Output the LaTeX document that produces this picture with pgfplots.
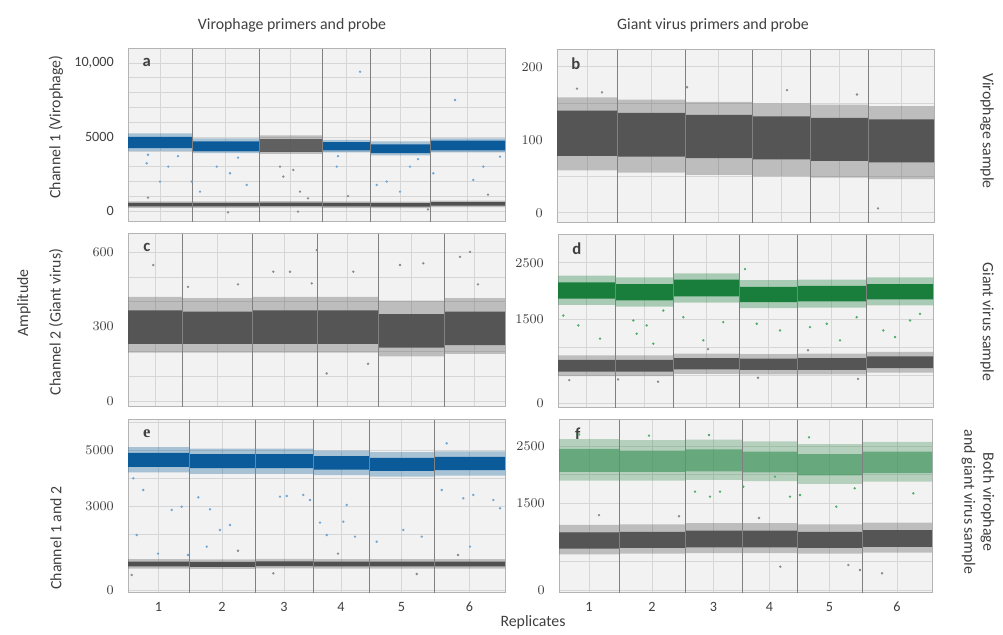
\documentclass[border=0pt]{standalone}
\usepackage{pgfplots}
\pgfplotsset{compat=1.18}
\usepackage{pgfplotstable}
\usepgfplotslibrary{fillbetween}
\usepackage{fontspec}
\setmainfont{Carlito}
\newfontfamily\serifletter{Liberation Serif}

\definecolor{bgc}{HTML}{F2F2F2}
\definecolor{gridc}{HTML}{D6D6D6}
\definecolor{framec}{HTML}{B4B4B4}
\definecolor{divc}{HTML}{808080}
\definecolor{vblue}{HTML}{0B5A9A}
\definecolor{vgreen}{HTML}{127A35}
\definecolor{vgray}{HTML}{505050}
\definecolor{ptblue}{HTML}{6FA8D6}
\definecolor{ptgreen}{HTML}{4FAE6C}
\definecolor{ptgray}{HTML}{8C8C8C}
\definecolor{txt}{HTML}{404040}

% band tables: segment start, halo low, core low, core high, halo high
\pgfplotstableread{
x hlo lo hi hhi
0 4050 4250 5000 5250
64 3900 4050 4700 4900
131 3900 4050 4700 4900
}\aBlueA
\pgfplotstableread{
x hlo lo hi hhi
131 3850 4000 4850 5100
194 3850 4000 4850 5100
}\aGrayPos
\pgfplotstableread{
x hlo lo hi hhi
194 3950 4100 4650 4800
242 3750 3900 4500 4700
302 3950 4100 4750 4900
377 3950 4100 4750 4900
}\aBlueB
\pgfplotstableread{
x hlo lo hi hhi
0 200 300 550 650
64 200 300 540 640
131 220 320 560 660
194 210 310 550 650
242 190 290 530 630
302 250 350 600 700
377 250 350 600 700
}\aGrayNeg
\pgfplotstableread{
x hlo lo hi hhi
0 58 78 140 158
60 55 77 137 155
128 52 75 134 152
195 50 73 132 150
253 48 71 130 148
311 46 69 128 146
377 46 69 128 146
}\bGray
\pgfplotstableread{
x hlo lo hi hhi
0 195 230 365 420
54 195 230 360 415
124 195 230 365 420
189 195 230 365 420
250 180 215 350 405
316 190 225 360 415
377 190 225 360 415
}\cGray
\pgfplotstableread{
x hlo lo hi hhi
0 1750 1860 2150 2270
57 1720 1830 2120 2240
115 1790 1900 2200 2310
181 1690 1800 2070 2190
239 1700 1810 2090 2200
308 1740 1850 2120 2240
375 1740 1850 2120 2240
}\dGreen
\pgfplotstableread{
x hlo lo hi hhi
0 480 560 770 850
57 480 560 770 850
115 520 600 800 880
181 510 590 790 870
239 510 590 800 880
308 540 620 830 910
375 540 620 830 910
}\dGray
\pgfplotstableread{
x hlo lo hi hhi
0 4200 4400 4900 5100
61 4150 4350 4850 5050
127 4150 4350 4850 5050
185 4100 4300 4780 4980
241 4050 4250 4720 4920
306 4080 4280 4750 4950
377 4080 4280 4750 4950
}\eBlue
\pgfplotstableread{
x hlo lo hi hhi
0 760 840 1010 1100
61 750 830 1000 1090
127 770 850 1020 1110
185 760 840 1010 1100
241 760 840 1010 1100
306 760 840 1010 1100
377 760 840 1010 1100
}\eGray
\pgfplotstableread{
x hlo lo hi hhi
0 1900 2050 2450 2620
60 1900 2050 2420 2600
126 1910 2060 2440 2610
183 1890 2040 2400 2580
238 1840 1990 2360 2530
303 1880 2030 2400 2570
373 1880 2030 2400 2570
}\fGreen
\pgfplotstableread{
x hlo lo hi hhi
0 620 720 1000 1130
60 630 730 1010 1140
126 640 740 1030 1160
183 640 740 1030 1160
238 630 730 1010 1140
303 650 750 1040 1170
373 650 750 1040 1170
}\fGray

% #1 table, #2 colour, #3 unique id, #4 core opacity
\newcommand{\band}[4]{%
  \addplot[name path=#3hh, const plot, draw=none, forget plot] table[x=x,y=hhi]{#1};
  \addplot[name path=#3hl, const plot, draw=none, forget plot] table[x=x,y=hlo]{#1};
  \addplot[fill=#2, fill opacity=0.32, draw=none, forget plot] fill between[of=#3hh and #3hl];
  \addplot[name path=#3ch, const plot, draw=none, forget plot] table[x=x,y=hi]{#1};
  \addplot[name path=#3cl, const plot, draw=none, forget plot] table[x=x,y=lo]{#1};
  \addplot[fill=#2, fill opacity=#4, draw=none, forget plot] fill between[of=#3ch and #3cl];
}

\pgfplotsset{
  panel/.style={
    scale only axis, height=103.8pt, anchor=south west,
    axis background/.style={fill=bgc},
    axis line style={framec, line width=0.6pt},
    tick style={draw=none},
    xmajorgrids, ymajorgrids, yminorgrids,
    major grid style={gridc, line width=0.4pt},
    minor grid style={gridc, line width=0.4pt},
    xticklabels={},
    scaled y ticks=false,
    ticklabel style={font=\fontsize{8.5}{10}\selectfont, text=txt},
    yticklabel style={xshift=-5pt, /pgf/number format/1000 sep={}},
    xticklabel style={yshift=-2pt},
    xmin=0, clip=true,
  },
  divline/.style={divc, line width=0.6pt, mark=none, forget plot, unbounded coords=jump},
  pts/.style={only marks, mark=*, mark size=0.5pt, forget plot},
}

\begin{document}
\begin{tikzpicture}
\path (0,0) rectangle (601.8pt,379.2pt);

% a
\begin{axis}[panel, at={(76.8pt,246pt)}, width=226.2pt, xmax=377,
  ymin=-750, ymax=10950, ytick={0,5000,10000}, yticklabels={0,5000,{10,000}},
  minor ytick={1000,2000,3000,4000,6000,7000,8000,9000},
  xtick={32,97.5,162.5,218,272,339.5}]
  \band{\aBlueA}{vblue}{aa}{1}
  \band{\aGrayPos}{vgray}{ab}{0.85}
  \band{\aBlueB}{vblue}{ac}{1}
  \band{\aGrayNeg}{vgray}{ad}{1}
  \addplot[divline] coordinates {(64,-750)(64,10950)(64,nan)(131,-750)(131,10950)(131,nan)(194,-750)(194,10950)(194,nan)(242,-750)(242,10950)(242,nan)(302,-750)(302,10950)};
  \addplot[pts, ptblue] coordinates {(18.7,3221)(32,1982)(40.3,2995)(63.7,1982)(72,1306)(88.7,2995)(102,2545)(118.7,1757)(208.7,2995)(232,9414)(248.7,1757)(258.7,1982)(272,1306)(282,2995)(305.3,2545)(327,7500)(345.3,2095)(355.3,2995)(372,3671)(20,3800)(50,3700)(110,3600)(210,3700)(290,3500)};
  \addplot[pts, ptgray] coordinates {(152,2995)(165.3,2770)(172,1306)(155.3,2320)(20,900)(100,-100)(170,-50)(180,850)(220,1000)(300,100)(360,1100)};
  \node[font=\fontsize{10}{12}\selectfont\bfseries, text=txt] at (rel axis cs:0.05,0.92) {a};
\end{axis}

% b
\begin{axis}[panel, at={(334.2pt,245.4pt)}, width=226.2pt, xmax=377,
  ymin=-14, ymax=223, ytick={0,100,200}, minor ytick={50,150},
  xtick={30,94,161.5,224,282,344}]
  \band{\bGray}{vgray}{ba}{0.95}
  \addplot[divline] coordinates {(60,-14)(60,223)(60,nan)(128,-14)(128,223)(128,nan)(195,-14)(195,223)(195,nan)(253,-14)(253,223)(253,nan)(311,-14)(311,223)};
  \addplot[pts, ptgray] coordinates {(321,6)(20,170)(45,165)(130,172)(230,168)(300,162)};
  \node[font=\fontsize{10}{12}\selectfont\bfseries, text=txt] at (rel axis cs:0.05,0.92) {b};
\end{axis}

% c
\begin{axis}[panel, at={(76.8pt,135pt)}, width=226.2pt, xmax=377,
  ymin=-24, ymax=673, ytick={0,300,600}, minor ytick={100,200,400,500},
  xtick={27,89,156.5,219.5,283,346.5}]
  \band{\cGray}{vgray}{ca}{0.95}
  \addplot[divline] coordinates {(54,-24)(54,673)(54,nan)(124,-24)(124,673)(124,nan)(189,-24)(189,673)(189,nan)(250,-24)(250,673)(250,nan)(316,-24)(316,673)};
  \addplot[pts, ptgray] coordinates {(188.7,608)(295.3,555)(332,581)(342,601)(145.3,521)(162,521)(225.3,521)(272,548)(198.7,111)(25.3,548)(183.7,474)(60,460)(110,470)(240,150)(350,470)};
  \node[font=\fontsize{10}{12}\selectfont\bfseries, text=txt] at (rel axis cs:0.05,0.92) {c};
\end{axis}

% d
\begin{axis}[panel, at={(334.8pt,134.4pt)}, width=225pt, xmax=375,
  ymin=-89, ymax=2996, ytick={0,1500,2500}, minor ytick={500,1000,2000},
  xtick={28.5,86,148,210,273.5,341.5}]
  \band{\dGreen}{vgreen}{da}{0.95}
  \band{\dGray}{vgray}{db}{0.95}
  \addplot[divline] coordinates {(57,-89)(57,2996)(57,nan)(115,-89)(115,2996)(115,nan)(181,-89)(181,2996)(181,nan)(239,-89)(239,2996)(239,nan)(308,-89)(308,2996)};
  \addplot[pts, ptgreen] coordinates {(5.3,1560)(20.3,1383)(42,1147)(75.3,1472)(78.7,1236)(88.7,1383)(95.3,1058)(105.3,1649)(125.3,1530)(145.3,1117)(165.3,1442)(187,2388)(198.7,1413)(222,1294)(252,1353)(268.7,1413)(282,1117)(298.7,1530)(325.3,1294)(337,1176)(352,1472)(362,1590)};
  \addplot[pts, ptgray] coordinates {(11.3,408)(60,420)(100,380)(200,450)(300,430)(150,960)(250,940)};
  \node[font=\fontsize{10}{12}\selectfont\bfseries, text=txt] at (rel axis cs:0.05,0.92) {d};
\end{axis}

% e
\begin{axis}[panel, at={(76.8pt,23.4pt)}, width=226.2pt, xmax=377,
  ymin=-107, ymax=6071, ytick={0,3000,5000}, minor ytick={1000,2000,4000,6000},
  xtick={30.5,94,156,213,273.5,341.5}, xticklabels={1,2,3,4,5,6}]
  \band{\eBlue}{vblue}{ea}{1}
  \band{\eGray}{vgray}{eb}{1}
  \addplot[divline] coordinates {(61,-107)(61,6071)(61,nan)(127,-107)(127,6071)(127,nan)(185,-107)(185,6071)(185,nan)(241,-107)(241,6071)(241,nan)(306,-107)(306,6071)};
  \addplot[pts, ptblue] coordinates {(5.3,3988)(15.3,3571)(8.7,1964)(43.7,2857)(53.7,2976)(70.3,3310)(82,2881)(92,2143)(102,2321)(78.7,1548)(152,3333)(158.7,3357)(175.3,3393)(182,3214)(192,2405)(215.3,2440)(218.7,3036)(198.7,1964)(227,1905)(248.7,1726)(275.3,2143)(293.7,1905)(313.7,3571)(335.3,3274)(345.3,3393)(365.3,3214)(372,2917)(318.7,5238)(342,1548)(30,1300)(60,1250)};
  \addplot[pts, ptgray] coordinates {(3.7,536)(145.3,595)(288.7,571)(110,1400)(210,1300)(330,1250)};
  \node[font=\fontsize{10}{12}\selectfont\bfseries\serifletter, text=txt] at (rel axis cs:0.05,0.92) {e};
\end{axis}

% f
\begin{axis}[panel, at={(335.4pt,23.4pt)}, width=223.8pt, xmax=373,
  ymin=-52, ymax=2951, ytick={0,1500,2500}, minor ytick={500,1000,2000},
  xtick={30,93,154.5,210.5,270.5,338}, xticklabels={1,2,3,4,5,6}]
  \band{\fGreen}{vgreen!85!white}{fa}{0.6}
  \band{\fGray}{vgray}{fb}{0.95}
  \addplot[divline] coordinates {(60,-52)(60,2951)(60,nan)(126,-52)(126,2951)(126,nan)(183,-52)(183,2951)(183,nan)(238,-52)(238,2951)(238,nan)(303,-52)(303,2951)};
  \addplot[pts, ptgreen] coordinates {(136,1707)(161,1707)(151,1620)(216,1967)(231,1620)(241,1649)(184.3,1794)(354.3,1678)(295.7,1765)(277.3,1446)(20,2700)(90,2680)(150,2690)(250,2650)};
  \addplot[pts, ptgray] coordinates {(289.3,434)(301,347)(221.3,405)(323,290)(40,1300)(120,1280)(200,1250)};
  \node[font=\fontsize{10}{12}\selectfont\bfseries, text=txt] at (rel axis cs:0.05,0.92) {f};
\end{axis}

% outer labels
\begin{scope}[every node/.style={text=txt, font=\fontsize{9.5}{11.5}\selectfont}]
  \node at (175.2pt,364.2pt) {Virophage primers and probe};
  \node at (427.8pt,364.2pt) {Giant virus primers and probe};
  \node[rotate=90] at (14.4pt,197.4pt) {Amplitude};
  \node[rotate=90] at (33.6pt,303pt) {Channel 1 (Virophage)};
  \node[rotate=90] at (33.6pt,186pt) {Channel 2 (Giant virus)};
  \node[rotate=90] at (33.6pt,56.4pt) {Channel 1 and 2};
  \node[rotate=-90] at (592.2pt,300.6pt) {Virophage sample};
  \node[rotate=-90] at (592.2pt,186pt) {Giant virus sample};
  \node[rotate=-90, align=center] at (586.8pt,78pt) {Both virophage\\and giant virus sample};
  \node at (319.8pt,6pt) {Replicates};
\end{scope}
\end{tikzpicture}
\end{document}
